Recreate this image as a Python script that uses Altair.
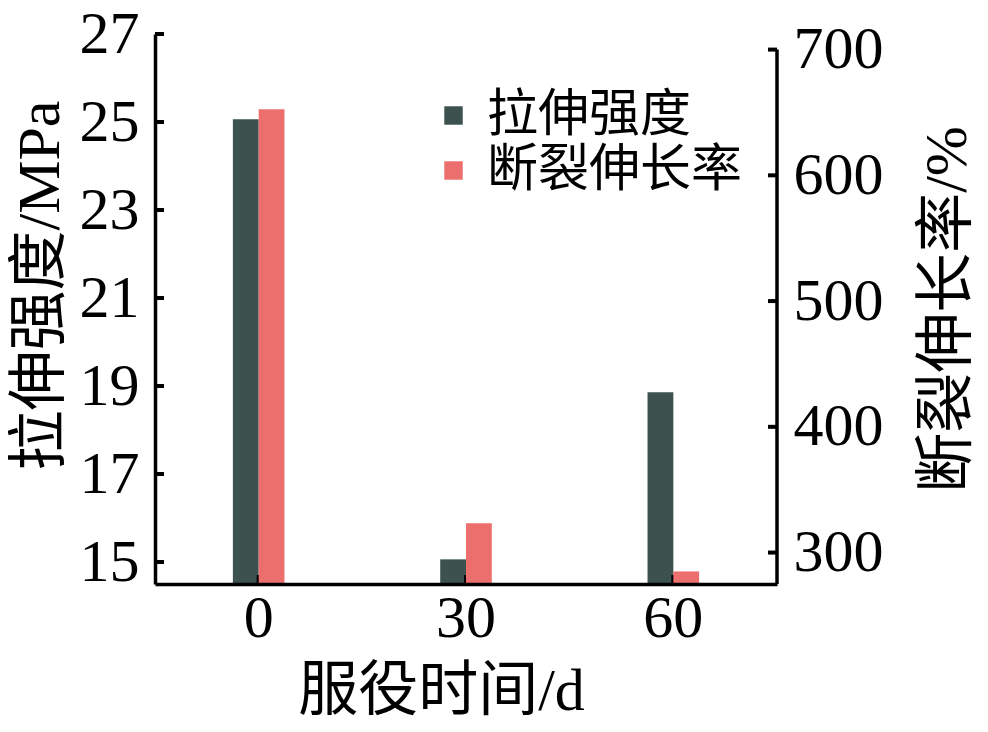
import altair as alt
import pandas as pd

# ---- data ----
days = ["0", "30", "60"]
tensile = [25.06, 15.06, 18.86]          # 拉伸强度 / MPa (left axis)
elong = [652.5, 323.4, 285.0]            # 断裂伸长率 / % (right axis)
series = ["拉伸强度", "断裂伸长率"]
colors = ["#3b524e", "#ec6f6e"]
left_ticks = [15, 17, 19, 21, 23, 25, 27]
right_ticks = [300, 400, 500, 600, 700]
left_domain = [14.5, 27]
right_domain = [275, 712.4]

W, H = 622, 550
BAR_W = 25.8
FONT = "Liberation Serif, Noto Sans CJK SC"

df_t = pd.DataFrame({"day": days, "value": tensile, "series": series[0]})
df_e = pd.DataFrame({"day": days, "value": elong, "series": series[1]})
df_lt = pd.DataFrame({"value": left_ticks})
df_rt = pd.DataFrame({"value": right_ticks})
df_days = pd.DataFrame({"day": days})
df_rdom = pd.DataFrame({"value": [right_domain[0]], "value2": [right_ticks[-1]]})

x_enc = alt.X(
    "day:N", sort=days,
    scale=alt.Scale(domain=days, paddingInner=0, paddingOuter=0),
    axis=alt.Axis(title="服役时间/d", labelAngle=0, ticks=False, tickSize=0,
                  domainWidth=3.5, domainColor="black", labelPadding=5,
                  titleX=286, titleY=107, titleBaseline="middle", titleAlign="center",
                  zindex=1),
)
color = alt.Color(
    "series:N", scale=alt.Scale(domain=series, range=colors),
    legend=alt.Legend(title=None, orient="none", legendX=273, legendY=56,
                      symbolType="square", symbolSize=340, symbolStrokeWidth=0,
                      labelFontSize=51, labelOffset=8, labelLimit=500,
                      rowPadding=3, padding=0),
)

yl_scale = alt.Scale(domain=left_domain, nice=False, zero=False)
yl_axis = alt.Axis(title="拉伸强度/MPa", values=left_ticks, ticks=False, tickSize=0,
                   labelPadding=16, domainWidth=3.5, domainColor="black", grid=False,
                   titleX=-115, titleY=251, titleAngle=270, titleAlign="center",
                   titleBaseline="middle", zindex=1)
yr_scale = alt.Scale(domain=right_domain, nice=False, zero=False)
yr_axis = alt.Axis(title="断裂伸长率/%", orient="right", values=right_ticks, ticks=False,
                   tickSize=0, labelPadding=16, domain=False, grid=False,
                   titleX=170, titleY=H / 2, titleAngle=270, titleAlign="center",
                   titleBaseline="middle", zindex=1)

bars_t = alt.Chart(df_t).mark_bar(width=BAR_W, xOffset=-BAR_W / 2).encode(
    x=x_enc, color=color,
    y=alt.Y("value:Q", scale=yl_scale, axis=yl_axis),
    y2=alt.datum(left_domain[0]),
)
ticks_l = alt.Chart(df_lt).mark_rule(color="black", strokeWidth=4).encode(
    y=alt.Y("value:Q", scale=yl_scale, axis=yl_axis),
    x=alt.value(0), x2=alt.value(9),
)
ticks_b = alt.Chart(df_days).mark_rule(color="black", strokeWidth=4).encode(
    x=x_enc, y=alt.value(H), y2=alt.value(H - 9),
)
left = alt.layer(bars_t, ticks_l, ticks_b)

bars_e = alt.Chart(df_e).mark_bar(width=BAR_W, xOffset=BAR_W / 2).encode(
    x=x_enc, color=color,
    y=alt.Y("value:Q", scale=yr_scale, axis=yr_axis),
    y2=alt.datum(right_domain[0]),
)
ticks_r = alt.Chart(df_rt).mark_rule(color="black", strokeWidth=4).encode(
    y=alt.Y("value:Q", scale=yr_scale, axis=yr_axis),
    x=alt.value(W - 9), x2=alt.value(W),
)
dom_r = alt.Chart(df_rdom).mark_rule(color="black", strokeWidth=3.5).encode(
    y=alt.Y("value:Q", scale=yr_scale, axis=yr_axis), y2="value2:Q",
    x=alt.value(W),
)
right = alt.layer(bars_e, ticks_r, dom_r)

chart = (
    alt.layer(left, right)
    .resolve_scale(y="independent")
    .properties(width=W, height=H,
                autosize=alt.AutoSizeParams(type="none"),
                padding={"left": 147, "top": 26, "right": 200, "bottom": 140})
    .configure_view(stroke=None)
    .configure_axis(labelFont=FONT, titleFont=FONT, labelFontSize=60, titleFontSize=60,
                    labelColor="black", titleColor="black", titleFontWeight="normal")
    .configure_legend(labelFont=FONT, labelColor="black")
)

chart.save("out.html", embed_options={"renderer": "svg", "actions": False})
